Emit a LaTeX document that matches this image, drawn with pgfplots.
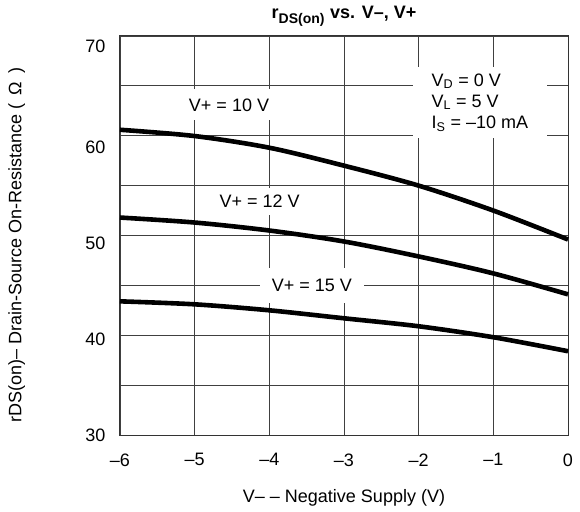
\documentclass[border=0pt]{standalone}
\usepackage{fontspec}
\setmainfont{Liberation Sans}
\usepackage{pgfplots}
\pgfplotsset{compat=1.18}
\begin{document}
\begin{tikzpicture}[font=\fontsize{18}{21}\selectfont]
\begin{axis}[
  scale only axis, width=448pt, height=399pt,
  xmin=-6, xmax=0, ymin=30, ymax=70,
  xtick={-6,-5,-4,-3,-2,-1,0}, xticklabels={–6,–5,–4,–3,–2,–1,0},
  ytick={30,35,40,45,50,55,60,65,70}, yticklabels={},
  extra y ticks={30,39.6,49.2,58.8,69.0},
  extra y tick labels={30,40,50,60,70},
  extra y tick style={grid=none},
  grid=major, grid style={black!75, line width=0.9pt},
  major tick length=0pt,
  axis line style={black!80, line width=1pt},
  xticklabel style={yshift=-15pt},
  yticklabel style={xshift=-11pt},
  title={\textbf{r\textsubscript{\fontsize{14}{16}\selectfont DS(on)} vs. V–, V+}},
  title style={at={(axis description cs:0.5,1)}, anchor=base, yshift=11pt},
  xlabel={V– – Negative Supply (V)},
  xlabel style={at={(axis description cs:0.5,0)}, anchor=base, yshift=-67pt},
  ylabel={rDS(on)– Drain-Source On-Resistance (\, Ω\, )},
  ylabel style={at={(axis description cs:-0.2306,0.476)}, anchor=center},
  clip=false,
]
\addplot[black, line width=4.6pt, smooth] coordinates {(-6,60.6) (-5,59.97) (-4,58.8) (-3,57.0) (-2,55.0) (-1,52.5) (0,49.6)};
\addplot[black, line width=4.6pt, smooth] coordinates {(-6,51.8) (-5,51.3) (-4,50.5) (-3,49.4) (-2,47.9) (-1,46.2) (0,44.1)};
\addplot[black, line width=4.6pt, smooth] coordinates {(-6,43.4) (-5,43.1) (-4,42.5) (-3,41.7) (-2,40.9) (-1,39.8) (0,38.4)};
\node[fill=white, inner xsep=8pt, inner ysep=9pt] at (axis cs:-4.54,63.1) {V+ = 10 V};
\node[fill=white, inner xsep=8pt, inner ysep=7pt] at (axis cs:-4.13,53.4) {V+ = 12 V};
\node[fill=white, inner xsep=12pt, inner ysep=11pt] at (axis cs:-3.43,45.0) {V+ = 15 V};
\node[fill=white, minimum width=134pt, minimum height=71pt, align=left, inner sep=0pt] at (axis cs:-1.18,63.34) {V\textsubscript{D} = 0 V\\V\textsubscript{L} = 5 V\\I\textsubscript{S} = –10 mA};
\end{axis}
\pgfresetboundingbox
\path ([shift={(-120pt,-76pt)}]current axis.south west) rectangle ([shift={(12pt,36pt)}]current axis.north east);
\end{tikzpicture}
\end{document}
